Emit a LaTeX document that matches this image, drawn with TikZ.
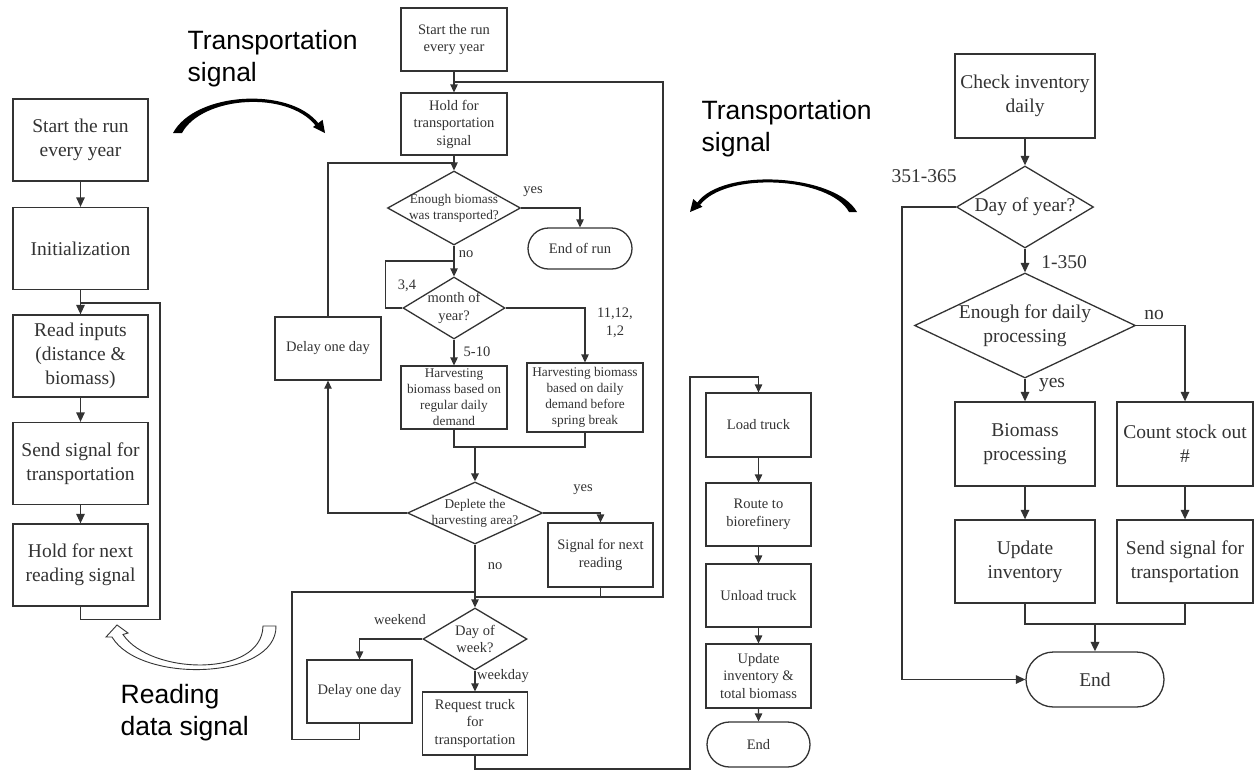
\documentclass[tikz,border=0pt]{standalone}
\usepackage{fontspec}
\setmainfont{Liberation Serif}
\newfontfamily\sansf{Liberation Sans}
\usepackage{tikz}
\usetikzlibrary{shapes.geometric, shapes.misc, arrows.meta, positioning}

\begin{document}
\begin{tikzpicture}[x=1pt, y=-1pt, line width=1.3pt, color=black!80,
    box/.style={draw, rectangle, align=center, inner sep=0pt},
    dia/.style={draw, diamond, inner sep=0pt},
    term/.style={draw, rounded rectangle, inner sep=1pt},
    big/.style={font=\fontsize{19.5}{24}\selectfont},
    small/.style={font=\fontsize{14.5}{17.5}\selectfont},
    tiny/.style={font=\fontsize{13.3}{16}\selectfont},
    lbl/.style={inner sep=0pt},
    sig/.style={font=\sansf\fontsize{26.5}{32}\selectfont, align=left, inner sep=0pt, text=black},
    arr/.style={-{Triangle[length=8pt,width=7.5pt]}},
    barr/.style={-{Triangle[length=9.5pt,width=8.5pt]}}]

    \useasboundingbox (0,0) rectangle (1254,772);
    \fill[white] (0,0) rectangle (1254,772);

    % reading part
    \foreach \n/\y/\t in {l1/140/{Start the run\\every year}, l2/248.5/Initialization, l3/356/{Read inputs\\(distance \&\\biomass)}, l4/463.5/{Send signal for\\transportation}, l5/565/{Hold for next\\reading signal}} {
        \node[box, big, minimum width=135, minimum height=82] (\n) at (80.5,\y) {\t};
    }
    \foreach \a/\b in {l1/l2, l2/l3, l3/l4, l4/l5} {
        \draw[barr] (\a) -- (\b);
    }
    \coordinate (lj) at (80.5,303);
    \draw (l5.south) -- ++(0,13) -| (160,303) -- (lj);

    % harvesting part
    \node[box, small, minimum width=106, minimum height=63] (m1) at (454,39.5) {Start the run\\every year};
    \node[box, small, minimum width=106, minimum height=62] (m2) at (454,124) {Hold for\\transportation\\signal};
    \node[dia, minimum width=133, minimum height=74, label={[tiny, align=center]center:{Enough biomass\\was transported?}}] (d1) at (454,208) {};
    \node[term, small, minimum width=106, minimum height=41] (e1) at (580,248.5) {End of run};
    \node[dia, minimum width=102, minimum height=62, label={[small, align=center]center:{month of\\year?}}] (d2) at (454,308) {};
    \node[box, tiny, minimum width=106, minimum height=63] (h1) at (454,397.5) {Harvesting\\biomass based on\\regular daily\\demand};
    \node[box, tiny, minimum width=116, minimum height=69] (h2) at (585,397.5) {Harvesting biomass\\based on daily\\demand before\\spring break};
    \node[box, small, minimum width=106, minimum height=63] (w1) at (328,348.5) {Delay one day};
    \node[dia, minimum width=135, minimum height=62, label={[tiny, align=center]center:{Deplete the\\harvesting area?}}] (d3) at (475,513) {};
    \node[box, small, minimum width=105, minimum height=64] (s1) at (600.5,555) {Signal for next\\reading};
    \node[dia, minimum width=104, minimum height=62, label={[small, align=center]center:{Day of\\week?}}] (d4) at (475,639) {};
    \node[box, small, minimum width=105, minimum height=63] (w2) at (359.5,691.5) {Delay one day};
    \node[box, small, minimum width=105, minimum height=63] (rq) at (475,723.5) {Request truck\\for\\transportation};

    \node[lbl, small] (y1) at (533,192) {yes};
    \node[lbl, small] (n1) at (466,254) {no};
    \node[lbl, small] (c1) at (407,286) {3,4};
    \node[lbl, small, align=center] (c2) at (615,323) {11,12,\\1,2};
    \node[lbl, small] (c3) at (477,352) {5-10};
    \node[lbl, small] (y2) at (583,490) {yes};
    \node[lbl, small] (n2) at (495,566) {no};
    \node[lbl, small] (k1) at (400,620) {weekend};
    \node[lbl, small] (k2) at (503,676) {weekday};

    % transport part
    \foreach \n/\y/\h/\t in {t1/425/64/Load truck, t2/514.5/63/{Route to\\biorefinery}, t3/595.5/63/Unload truck, t4/676/64/{Update\\inventory \&\\total biomass}} {
        \node[box, small, minimum width=105, minimum height=\h] (\n) at (758.5,\y) {\t};
    }
    \node[term, small, minimum width=105, minimum height=45] (t5) at (758.5,744.5) {End};
    \foreach \a/\b in {t1/t2, t2/t3, t3/t4, t4/t5} {
        \draw[arr] (\a) -- (\b);
    }

    \coordinate (j1) at (454,163);
    \coordinate (j2) at (454,261);
    \coordinate (j3) at (475,447);
    \coordinate (j4) at (475,597);
    \coordinate (j5) at (454,82);
    \coordinate (j6) at (475,592);
    \draw[arr] (m1) -- (m2);
    \draw[arr] (m2) -- (d1);
    \draw (w1.north) |- (j1);
    \draw[arr] (d1.east) -| (e1.north);
    \draw[arr] (d1) -- (d2);
    \draw (d2.west) -- ++(-17,0) |- (j2);
    \draw[arr] (d2.east) -| (h2.north);
    \draw[arr] (d2) -- (h1);
    \draw (h1.south) |- (j3) -| (h2.south);
    \draw[arr, line width=1.9pt] (j3) -- (d3.north);
    \draw[arr] (d3.west) -| (w1.south);
    \draw[arr] (d3.east) -| (s1.north);
    \draw[arr] (d3) -- (d4);
    \draw (s1.south) |- (663,597) |- (j5);
    \draw (j4) -- (s1.south |- j4);
    \draw (w2.south) -- ++(0,16) -| (292,592) -- (j6);
    \draw[arr] (d4.west) -| (w2.north);
    \draw[arr] (d4) -- (rq);
    \draw[arr] (rq.south) |- (690,769) |- (758.5,377) -- (t1.north);

    % processing part
    \node[box, big, minimum width=140, minimum height=84] (r1) at (1025,96) {Check inventory\\daily};
    \node[dia, minimum width=137, minimum height=82, label={[big]center:Day of year?}] (r2) at (1025,207) {};
    \node[dia, minimum width=221, minimum height=105, label={[big, align=center]center:{Enough for daily\\processing}}] (r3) at (1025,325.5) {};
    \node[box, big, minimum width=140, minimum height=84] (r4) at (1025,444) {Biomass\\processing};
    \node[box, big, minimum width=136, minimum height=84] (r5) at (1185,444) {Count stock out\\\#};
    \node[box, big, minimum width=140, minimum height=83] (r6) at (1025,561.5) {Update\\inventory};
    \node[box, big, minimum width=136, minimum height=83] (r7) at (1185,561.5) {Send signal for\\transportation};
    \node[term, big, minimum width=140, minimum height=55] (r8) at (1095,679.5) {End};

    \node[lbl, big] (q1) at (924,176) {351-365};
    \node[lbl, big] (q2) at (1064,262) {1-350};
    \node[lbl, big] (q3) at (1154,315) {no};
    \node[lbl, big] (q4) at (1052,385) {yes};

    \coordinate (j7) at (1095,624);
    \draw[barr] (r1) -- (r2);
    \draw[barr] (r2) -- (r3);
    \draw[barr] (r2.west) -- ++(-54,0) |- (r8.west);
    \draw[barr] (r3.east) -| (r5.north);
    \draw[barr] (r3) -- (r4);
    \draw[barr] (r4) -- (r6);
    \draw[barr] (r5) -- (r7);
    \draw (r6.south) |- (j7) -| (r7.south);
    \draw[barr, line width=1.9pt] (j7) -- (r8.north);

    % signals
    \node[sig, anchor=west] (sg1) at (187,59) {Transportation\\signal};
    \node[sig, anchor=west] (sg2) at (701,129) {Transportation\\signal};
    \node[sig, anchor=west] (sg3) at (120,712.5) {Reading\\data signal};

    \fill[black] (173,133) .. controls (195,92) and (290,86) .. (319,124) -- (316,126) .. controls (288,90) and (202,96) .. (182,133) -- cycle;
    \fill[black] (325,133) -- (322.6,119.8) -- (313,127) -- cycle;
    \fill[black] (857,212) .. controls (836,174) and (722,167) .. (697,203) -- (700,205) .. controls (726,171) and (830,177) .. (849,212) -- cycle;
    \fill[black] (690,212) -- (702.4,206.8) -- (693.2,199) -- cycle;
    \filldraw[fill=white, line width=0.9pt] (117,625) -- (128,633) -- (123,634.5) .. controls (150,675) and (262,678) .. (263,626) -- (276,626) .. controls (277,680) and (140,684) .. (112,637) -- (106,637) -- cycle;
\end{tikzpicture}
\end{document}
